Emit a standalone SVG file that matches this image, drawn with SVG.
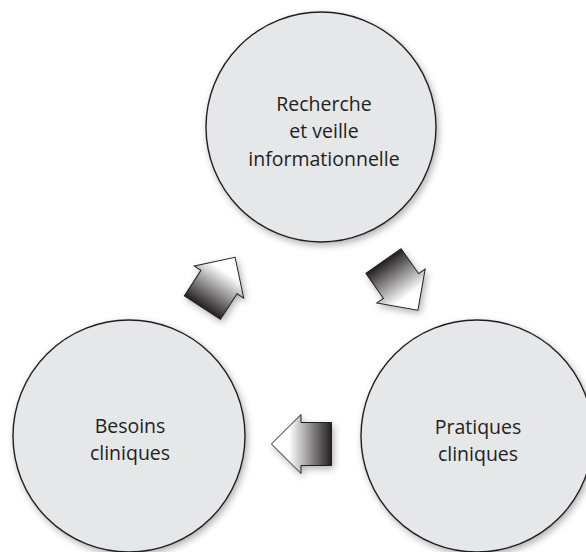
<svg xmlns="http://www.w3.org/2000/svg" width="586" height="552" viewBox="0 0 586 552">
  <defs>
    <filter id="shadow" x="-20%" y="-20%" width="140%" height="140%">
      <feDropShadow dx="2" dy="3" stdDeviation="3.5" flood-color="#000" flood-opacity="0.3"/>
    </filter>
    <linearGradient id="arrowGrad" gradientUnits="userSpaceOnUse" x1="-30.5" y1="0" x2="12" y2="0">
      <stop offset="0" stop-color="#231f20"/>
      <stop offset="1" stop-color="#ffffff"/>
    </linearGradient>
    <polygon id="arrowShape" points="-30.5,-21.5 0,-21.5 0,-29.5 29.5,0 0,29.5 0,21.5 -30.5,21.5"/>
  </defs>
  <style>
    .node circle { fill: #e6e7e8; stroke: #231f20; stroke-width: 1.4; }
    .label { font-family: "Open Sans", "Noto Sans", sans-serif; font-size: 19.5px; fill: #231f20; text-anchor: middle; }
    .arrow use { fill: url(#arrowGrad); stroke: #231f20; stroke-width: 1; stroke-linejoin: miter; }
  </style>
  <rect width="586" height="552" fill="#ffffff"/>

  <g id="recherche" class="node">
    <circle cx="321" cy="127" r="115" filter="url(#shadow)"/>
    <text class="label" x="324" y="111">Recherche</text>
    <text class="label" x="324" y="138">et veille</text>
    <text class="label" x="324" y="166">informationnelle</text>
  </g>

  <g id="besoins" class="node">
    <circle cx="129" cy="436" r="116" filter="url(#shadow)"/>
    <text class="label" x="130" y="433">Besoins</text>
    <text class="label" x="130" y="460">cliniques</text>
  </g>

  <g id="pratiques" class="node">
    <circle cx="477" cy="436" r="116" filter="url(#shadow)"/>
    <text class="label" x="478" y="434">Pratiques</text>
    <text class="label" x="478" y="461">cliniques</text>
  </g>

  <g id="connectors" class="arrow" filter="url(#shadow)">
    <use href="#arrowShape" transform="translate(219,282) rotate(-57)"/>
    <use href="#arrowShape" transform="translate(401,286) rotate(55)"/>
    <use href="#arrowShape" transform="translate(301,444) rotate(180)"/>
  </g>
</svg>
